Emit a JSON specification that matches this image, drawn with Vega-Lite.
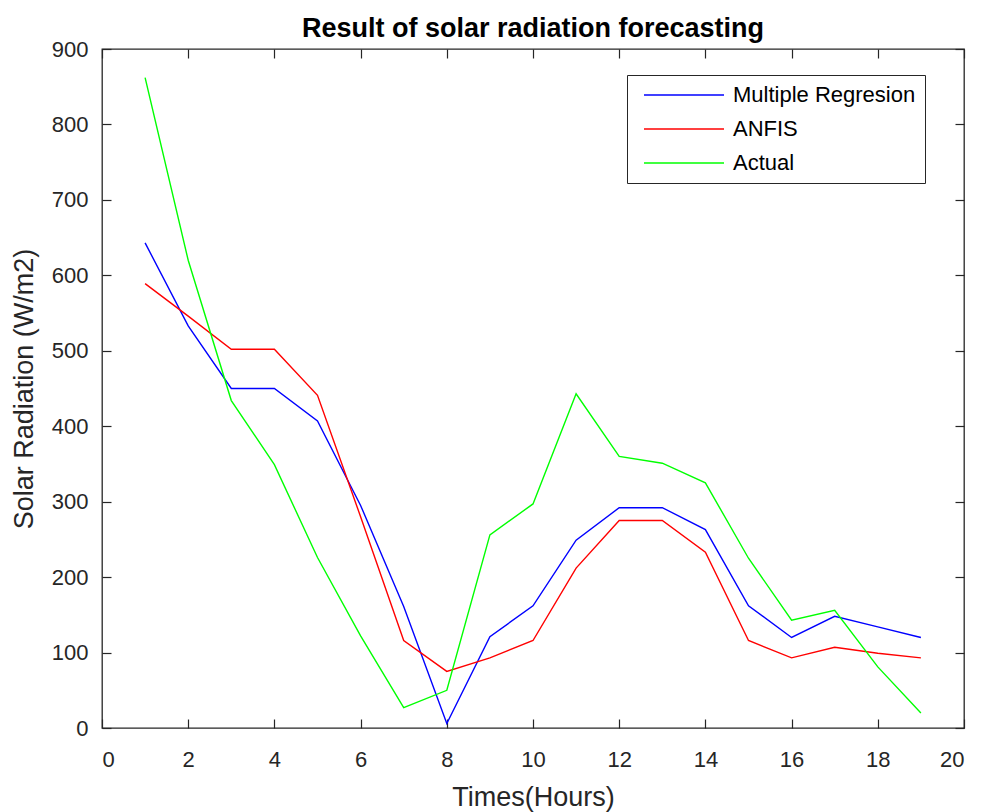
{
  "$schema": "https://vega.github.io/schema/vega-lite/v6.json",
  "autosize": {"type": "none"},
  "width": 862,
  "height": 679,
  "padding": {"left": 102, "top": 49, "right": 17, "bottom": 84},
  "background": "white",
  "title": {
    "text": "Result of solar radiation forecasting",
    "font": "Liberation Sans",
    "fontSize": 27,
    "fontWeight": "bold",
    "color": "#000000",
    "offset": -5
  },
  "config": {
    "view": {"stroke": "#262626", "strokeWidth": 1.3},
    "axis": {
      "labelFont": "Liberation Sans",
      "titleFont": "Liberation Sans",
      "labelFontSize": 22,
      "titleFontSize": 27,
      "labelColor": "#262626",
      "titleColor": "#262626",
      "titleFontWeight": "normal",
      "grid": false,
      "domain": false,
      "tickColor": "#262626",
      "tickSize": -9,
      "tickWidth": 1.2
    }
  },
  "data": {
    "values": [
      {"t": 1, "series": "Multiple Regresion", "v": 643},
      {"t": 2, "series": "Multiple Regresion", "v": 533},
      {"t": 3, "series": "Multiple Regresion", "v": 450},
      {"t": 4, "series": "Multiple Regresion", "v": 450},
      {"t": 5, "series": "Multiple Regresion", "v": 407},
      {"t": 6, "series": "Multiple Regresion", "v": 295},
      {"t": 7, "series": "Multiple Regresion", "v": 161},
      {"t": 8, "series": "Multiple Regresion", "v": 6},
      {"t": 9, "series": "Multiple Regresion", "v": 121},
      {"t": 10, "series": "Multiple Regresion", "v": 162},
      {"t": 11, "series": "Multiple Regresion", "v": 249},
      {"t": 12, "series": "Multiple Regresion", "v": 292},
      {"t": 13, "series": "Multiple Regresion", "v": 292},
      {"t": 14, "series": "Multiple Regresion", "v": 263},
      {"t": 15, "series": "Multiple Regresion", "v": 162},
      {"t": 16, "series": "Multiple Regresion", "v": 120},
      {"t": 17, "series": "Multiple Regresion", "v": 148},
      {"t": 18, "series": "Multiple Regresion", "v": 134},
      {"t": 19, "series": "Multiple Regresion", "v": 120},
      {"t": 1, "series": "ANFIS", "v": 589},
      {"t": 2, "series": "ANFIS", "v": 546},
      {"t": 3, "series": "ANFIS", "v": 502},
      {"t": 4, "series": "ANFIS", "v": 502},
      {"t": 5, "series": "ANFIS", "v": 441},
      {"t": 6, "series": "ANFIS", "v": 280},
      {"t": 7, "series": "ANFIS", "v": 116},
      {"t": 8, "series": "ANFIS", "v": 75},
      {"t": 9, "series": "ANFIS", "v": 93},
      {"t": 10, "series": "ANFIS", "v": 116},
      {"t": 11, "series": "ANFIS", "v": 212},
      {"t": 12, "series": "ANFIS", "v": 275},
      {"t": 13, "series": "ANFIS", "v": 275},
      {"t": 14, "series": "ANFIS", "v": 233},
      {"t": 15, "series": "ANFIS", "v": 116},
      {"t": 16, "series": "ANFIS", "v": 93},
      {"t": 17, "series": "ANFIS", "v": 107},
      {"t": 18, "series": "ANFIS", "v": 99},
      {"t": 19, "series": "ANFIS", "v": 93},
      {"t": 1, "series": "Actual", "v": 862},
      {"t": 2, "series": "Actual", "v": 620},
      {"t": 3, "series": "Actual", "v": 434},
      {"t": 4, "series": "Actual", "v": 349},
      {"t": 5, "series": "Actual", "v": 226},
      {"t": 6, "series": "Actual", "v": 122},
      {"t": 7, "series": "Actual", "v": 27},
      {"t": 8, "series": "Actual", "v": 50},
      {"t": 9, "series": "Actual", "v": 256},
      {"t": 10, "series": "Actual", "v": 297},
      {"t": 11, "series": "Actual", "v": 443},
      {"t": 12, "series": "Actual", "v": 360},
      {"t": 13, "series": "Actual", "v": 351},
      {"t": 14, "series": "Actual", "v": 325},
      {"t": 15, "series": "Actual", "v": 225},
      {"t": 16, "series": "Actual", "v": 143},
      {"t": 17, "series": "Actual", "v": 156},
      {"t": 18, "series": "Actual", "v": 81},
      {"t": 19, "series": "Actual", "v": 20}
    ]
  },
  "layer": [
    {
      "mark": {"type": "line", "strokeWidth": 1.4},
      "encoding": {
        "x": {
          "field": "t", "type": "quantitative",
          "scale": {"domain": [0, 20], "nice": false},
          "axis": {"title": "Times(Hours)", "values": [0,2,4,6,8,10,12,14,16,18,20], "labelPadding": 30, "titlePadding": 14}
        },
        "y": {
          "field": "v", "type": "quantitative",
          "scale": {"domain": [0, 900], "nice": false},
          "axis": {"title": "Solar Radiation (W/m2)", "values": [0,100,200,300,400,500,600,700,800,900], "labelPadding": 23, "titlePadding": 13}
        },
        "color": {
          "field": "series", "type": "nominal",
          "scale": {"domain": ["Multiple Regresion", "ANFIS", "Actual"], "range": ["#0000FF", "#FF0000", "#00FF00"]},
          "legend": {
            "title": null,
            "orient": "none",
            "legendX": 525,
            "legendY": 26,
            "symbolType": "M-4,0H4",
            "symbolSize": 400,
            "symbolStrokeWidth": 1.4,
            "symbolOffset": 37,
            "labelFont": "Liberation Sans",
            "labelFontSize": 22,
            "labelLimit": 400,
            "labelColor": "#000000",
            "strokeColor": "#262626",
            "fillColor": "white",
            "padding": 9,
            "rowPadding": 12,
            "labelOffset": 38
          }
        }
      }
    },
    {
      "mark": {"type": "line", "opacity": 0},
      "encoding": {
        "x": {"field": "t", "type": "quantitative", "axis": {"orient": "top", "title": null, "labels": false, "values": [0,2,4,6,8,10,12,14,16,18,20]}},
        "y": {"field": "v", "type": "quantitative", "axis": {"orient": "right", "title": null, "labels": false, "values": [0,100,200,300,400,500,600,700,800,900]}}
      }
    }
  ],
  "resolve": {"axis": {"x": "independent", "y": "independent"}}
}
